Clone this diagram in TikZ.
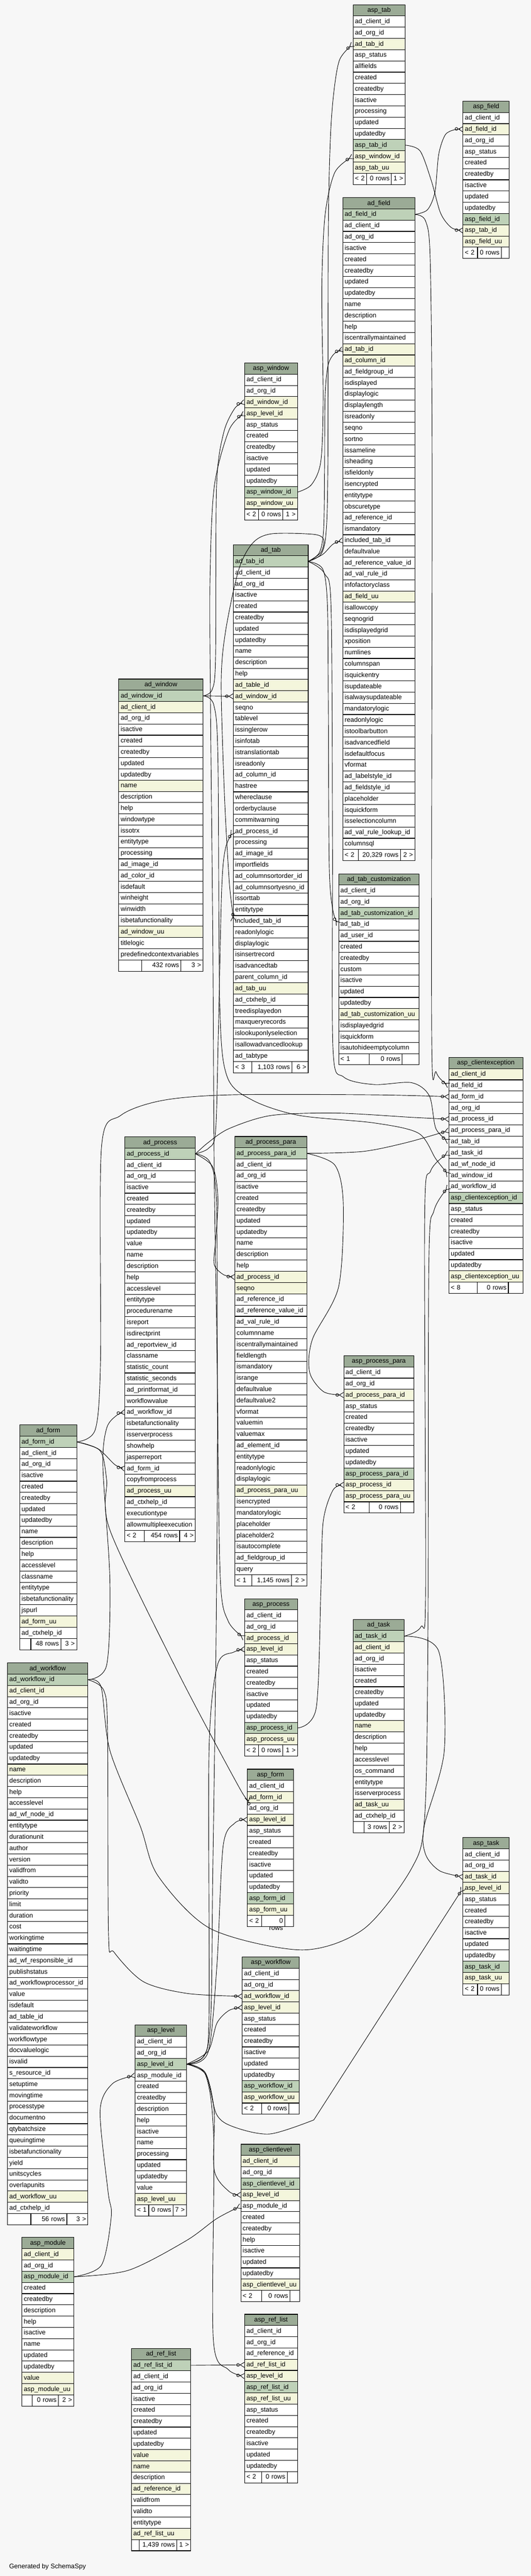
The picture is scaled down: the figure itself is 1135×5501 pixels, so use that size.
\documentclass[tikz,border=0pt]{standalone}
\usepackage{fontspec}
\setmainfont{Liberation Sans}
\usetikzlibrary{arrows.meta}
\definecolor{bgcol}{HTML}{F7F7F7}
\definecolor{hdcol}{HTML}{9BAB96}
\definecolor{pkcol}{HTML}{BED1B8}
\definecolor{ixcol}{HTML}{F4F6DC}
% table: name, top left, width, rows, footer widths, footer texts
\newcommand{\erdtable}[9]{%
\pgfmathsetmacro\tw{#3-8}
\node[tabhead, minimum width=#3pt, anchor=north west] (#1) at #2 {#1};
\xdef\lastrow{#1}
\foreach \kind/\col in {#4}{
\node[tabrow, row\kind, text width=\tw pt, anchor=north west] (#1-\col) at (\lastrow.south west) {\col};
\xdef\lastrow{#1-\col}
}
\pgfmathsetmacro\fa{#5-8}
\pgfmathsetmacro\fb{#6-8}
\pgfmathsetmacro\fc{#3-#5-#6-8}
\node[tabfoot, text width=\fa pt, align=left, anchor=north west] (#1-fl) at (\lastrow.south west) {#7};
\node[tabfoot, text width=\fb pt, align=right, anchor=north west] (#1-fm) at (#1-fl.north east) {#8};
\node[tabfoot, text width=\fc pt, align=right, anchor=north west] (#1-fr) at (#1-fm.north east) {#9};
}
\begin{document}
\catcode`\_=12
\begin{tikzpicture}[x=1pt,y=-1pt,
 tabhead/.style={draw, line width=1.2pt, fill=hdcol, minimum height=24pt, inner sep=0pt, outer sep=0pt, text height=11pt, text depth=3pt, font=\fontsize{14}{16}\selectfont},
 tabrow/.style={draw, line width=1.2pt, minimum height=24pt, inner xsep=4pt, inner ysep=0pt, outer sep=0pt, text height=11pt, text depth=3pt, align=left, font=\fontsize{14}{16}\selectfont},
 tabfoot/.style={draw, line width=1.2pt, fill=white, minimum height=24pt, inner xsep=4pt, inner ysep=0pt, outer sep=0pt, text height=11pt, text depth=3pt, font=\fontsize{14}{16}\selectfont},
 rown/.style={fill=white}, rowp/.style={fill=pkcol}, rowf/.style={fill=ixcol},
 fk/.style={line width=1pt, -{Circle[open,length=7pt,width=7pt] Straight Barb[reversed,length=9pt,width=11pt]}}]
\useasboundingbox (0,0) rectangle (1135,5501);
\fill[bgcol] (0,0) rectangle (1135,5501);
%asp_tab
\erdtable{asp_tab}{(755,10)}{111}{n/ad_client_id, n/ad_org_id, f/ad_tab_id, n/asp_status, n/allfields, n/created, n/createdby, n/isactive, n/processing, n/updated, n/updatedby, p/asp_tab_id, f/asp_window_id, f/asp_tab_uu}{29}{53}{< 2}{0 rows}{1 >}
%asp_field
\erdtable{asp_field}{(990,216)}{99}{n/ad_client_id, f/ad_field_id, n/ad_org_id, n/asp_status, n/created, n/createdby, n/isactive, n/updated, n/updatedby, p/asp_field_id, f/asp_tab_id, f/asp_field_uu}{31}{51}{< 2}{0 rows}{}
%ad_field
\erdtable{ad_field}{(733,422)}{154}{p/ad_field_id, n/ad_client_id, n/ad_org_id, n/isactive, n/created, n/createdby, n/updated, n/updatedby, n/name, n/description, n/help, n/iscentrallymaintained, f/ad_tab_id, f/ad_column_id, n/ad_fieldgroup_id, n/isdisplayed, n/displaylogic, n/displaylength, n/isreadonly, n/seqno, n/sortno, n/issameline, n/isheading, n/isfieldonly, n/isencrypted, n/entitytype, n/obscuretype, n/ad_reference_id, n/ismandatory, n/included_tab_id, n/defaultvalue, n/ad_reference_value_id, n/ad_val_rule_id, n/infofactoryclass, f/ad_field_uu, n/isallowcopy, n/seqnogrid, n/isdisplayedgrid, n/xposition, n/numlines, n/columnspan, n/isquickentry, n/isupdateable, n/isalwaysupdateable, n/mandatorylogic, n/readonlylogic, n/istoolbarbutton, n/isadvancedfield, n/isdefaultfocus, n/vformat, n/ad_labelstyle_id, n/ad_fieldstyle_id, n/placeholder, n/isquickform, n/isselectioncolumn, n/ad_val_rule_lookup_id, n/columnsql}{33}{90}{< 2}{20,329 rows}{2 >}
%asp_window
\erdtable{asp_window}{(523,775)}{113}{n/ad_client_id, n/ad_org_id, f/ad_window_id, f/asp_level_id, n/asp_status, n/created, n/createdby, n/isactive, n/updated, n/updatedby, p/asp_window_id, f/asp_window_uu}{30}{52}{< 2}{0 rows}{1 >}
%ad_tab
\erdtable{ad_tab}{(499,1163)}{160}{p/ad_tab_id, n/ad_client_id, n/ad_org_id, n/isactive, n/created, n/createdby, n/updated, n/updatedby, n/name, n/description, n/help, f/ad_table_id, f/ad_window_id, n/seqno, n/tablevel, n/issinglerow, n/isinfotab, n/istranslationtab, n/isreadonly, n/ad_column_id, n/hastree, n/whereclause, n/orderbyclause, n/commitwarning, n/ad_process_id, n/processing, n/ad_image_id, n/importfields, n/ad_columnsortorder_id, n/ad_columnsortyesno_id, n/issorttab, n/entitytype, n/included_tab_id, n/readonlylogic, n/displaylogic, n/isinsertrecord, n/isadvancedtab, n/parent_column_id, f/ad_tab_uu, n/ad_ctxhelp_id, n/treedisplayedon, n/maxqueryrecords, n/islookuponlyselection, n/isallowadvancedlookup, n/ad_tabtype}{40}{85}{< 3}{1,103 rows}{6 >}
%ad_window
\erdtable{ad_window}{(254,1450)}{180}{p/ad_window_id, f/ad_client_id, n/ad_org_id, n/isactive, n/created, n/createdby, n/updated, n/updatedby, f/name, n/description, n/help, n/windowtype, n/issotrx, n/entitytype, n/processing, n/ad_image_id, n/ad_color_id, n/isdefault, n/winheight, n/winwidth, n/isbetafunctionality, f/ad_window_uu, n/titlelogic, n/predefinedcontextvariables}{49}{84}{}{432 rows}{3 >}
%ad_tab_customization
\erdtable{ad_tab_customization}{(724,1866)}{172}{n/ad_client_id, n/ad_org_id, p/ad_tab_customization_id, n/ad_tab_id, n/ad_user_id, n/created, n/createdby, n/custom, n/isactive, n/updated, n/updatedby, f/ad_tab_customization_uu, n/isdisplayedgrid, n/isquickform, n/isautohideemptycolumn}{65}{71}{< 1}{0 rows}{}
%asp_clientexception
\erdtable{asp_clientexception}{(960,2258)}{158}{f/ad_client_id, n/ad_field_id, n/ad_form_id, n/ad_org_id, n/ad_process_id, n/ad_process_para_id, n/ad_tab_id, n/ad_task_id, n/ad_wf_node_id, n/ad_window_id, n/ad_workflow_id, p/asp_clientexception_id, n/asp_status, n/created, n/createdby, n/isactive, n/updated, n/updatedby, f/asp_clientexception_uu}{60}{67}{< 8}{0 rows}{}
%ad_process
\erdtable{ad_process}{(267,2428)}{151}{p/ad_process_id, n/ad_client_id, n/ad_org_id, n/isactive, n/created, n/createdby, n/updated, n/updatedby, n/value, n/name, n/description, n/help, n/accesslevel, n/entitytype, n/procedurename, n/isreport, n/isdirectprint, n/ad_reportview_id, n/classname, n/statistic_count, n/statistic_seconds, n/ad_printformat_id, n/workflowvalue, n/ad_workflow_id, n/isbetafunctionality, n/isserverprocess, n/showhelp, n/jasperreport, n/ad_form_id, n/copyfromprocess, f/ad_process_uu, n/ad_ctxhelp_id, n/executiontype, n/allowmultipleexecution}{42}{75}{< 2}{454 rows}{4 >}
%ad_process_para
\erdtable{ad_process_para}{(502,2427)}{154}{p/ad_process_para_id, n/ad_client_id, n/ad_org_id, n/isactive, n/created, n/createdby, n/updated, n/updatedby, n/name, n/description, n/help, f/ad_process_id, f/seqno, n/ad_reference_id, n/ad_reference_value_id, n/ad_val_rule_id, n/columnname, n/iscentrallymaintained, n/fieldlength, n/ismandatory, n/isrange, n/defaultvalue, n/defaultvalue2, n/vformat, n/valuemin, n/valuemax, n/ad_element_id, n/entitytype, n/readonlylogic, n/displaylogic, f/ad_process_para_uu, n/isencrypted, n/mandatorylogic, n/placeholder, n/placeholder2, n/isautocomplete, n/ad_fieldgroup_id, n/query}{37}{84}{< 1}{1,145 rows}{2 >}
%asp_process_para
\erdtable{asp_process_para}{(735,2895)}{150}{n/ad_client_id, n/ad_org_id, f/ad_process_para_id, n/asp_status, n/created, n/createdby, n/isactive, n/updated, n/updatedby, p/asp_process_para_id, f/asp_process_id, f/asp_process_para_uu}{54}{67}{< 2}{0 rows}{}
%ad_form
\erdtable{ad_form}{(42,3043)}{122}{p/ad_form_id, n/ad_client_id, n/ad_org_id, n/isactive, n/created, n/createdby, n/updated, n/updatedby, n/name, n/description, n/help, n/accesslevel, n/classname, n/entitytype, n/isbetafunctionality, n/jspurl, f/ad_form_uu, n/ad_ctxhelp_id}{24}{64}{}{48 rows}{3 >}
%ad_workflow
\erdtable{ad_workflow}{(16,3551)}{172}{p/ad_workflow_id, f/ad_client_id, n/ad_org_id, n/isactive, n/created, n/createdby, n/updated, n/updatedby, f/name, n/description, n/help, n/accesslevel, n/ad_wf_node_id, n/entitytype, n/durationunit, n/author, n/version, n/validfrom, n/validto, n/priority, n/limit, n/duration, n/cost, n/workingtime, n/waitingtime, n/ad_wf_responsible_id, n/publishstatus, n/ad_workflowprocessor_id, n/value, n/isdefault, n/ad_table_id, n/validateworkflow, n/workflowtype, n/docvaluelogic, n/isvalid, n/s_resource_id, n/setuptime, n/movingtime, n/processtype, n/documentno, n/qtybatchsize, n/queuingtime, n/isbetafunctionality, n/yield, n/unitscycles, n/overlapunits, f/ad_workflow_uu, n/ad_ctxhelp_id}{50}{77}{}{56 rows}{3 >}
%asp_process
\erdtable{asp_process}{(523,3414)}{113}{n/ad_client_id, n/ad_org_id, f/ad_process_id, f/asp_level_id, n/asp_status, n/created, n/createdby, n/isactive, n/updated, n/updatedby, p/asp_process_id, f/asp_process_uu}{30}{52}{< 2}{0 rows}{1 >}
%ad_task
\erdtable{ad_task}{(755,3458)}{109}{p/ad_task_id, f/ad_client_id, n/ad_org_id, n/isactive, n/created, n/createdby, n/updated, n/updatedby, f/name, n/description, n/help, n/accesslevel, n/os_command, n/entitytype, n/isserverprocess, f/ad_task_uu, n/ad_ctxhelp_id}{23}{54}{}{3 rows}{2 >}
%asp_form
\erdtable{asp_form}{(529,3778)}{99}{n/ad_client_id, f/ad_form_id, n/ad_org_id, f/asp_level_id, n/asp_status, n/created, n/createdby, n/isactive, n/updated, n/updatedby, p/asp_form_id, f/asp_form_uu}{30}{50}{< 2}{0 rows}{}
%asp_task
\erdtable{asp_task}{(990,3924)}{99}{n/ad_client_id, n/ad_org_id, f/ad_task_id, f/asp_level_id, n/asp_status, n/created, n/createdby, n/isactive, n/updated, n/updatedby, p/asp_task_id, f/asp_task_uu}{31}{51}{< 2}{0 rows}{}
%asp_workflow
\erdtable{asp_workflow}{(518,4179)}{122}{n/ad_client_id, n/ad_org_id, f/ad_workflow_id, f/asp_level_id, n/asp_status, n/created, n/createdby, n/isactive, n/updated, n/updatedby, p/asp_workflow_id, f/asp_workflow_uu}{41}{59}{< 2}{0 rows}{}
%asp_level
\erdtable{asp_level}{(289,4324)}{110}{n/ad_client_id, n/ad_org_id, p/asp_level_id, n/asp_module_id, n/created, n/createdby, n/description, n/help, n/isactive, n/name, n/processing, n/updated, n/updatedby, n/value, f/asp_level_uu}{29}{52}{< 1}{0 rows}{7 >}
%asp_clientlevel
\erdtable{asp_clientlevel}{(515,4579)}{126}{f/ad_client_id, n/ad_org_id, p/asp_clientlevel_id, f/asp_level_id, n/asp_module_id, n/created, n/createdby, n/help, n/isactive, n/updated, n/updatedby, f/asp_clientlevel_uu}{44}{61}{< 2}{0 rows}{}
%asp_module
\erdtable{asp_module}{(47,4778)}{111}{f/ad_client_id, n/ad_org_id, p/asp_module_id, n/created, n/createdby, n/description, n/help, n/isactive, n/name, n/updated, n/updatedby, f/value, f/asp_module_uu}{22}{56}{}{0 rows}{2 >}
%ad_ref_list
\erdtable{ad_ref_list}{(281,5015)}{127}{p/ad_ref_list_id, n/ad_client_id, n/ad_org_id, n/isactive, n/created, n/createdby, n/updated, n/updatedby, f/value, f/name, n/description, f/ad_reference_id, n/validfrom, n/validto, n/entitytype, f/ad_ref_list_uu}{17}{80}{}{1,439 rows}{1 >}
%asp_ref_list
\erdtable{asp_ref_list}{(523,4942)}{113}{n/ad_client_id, n/ad_org_id, n/ad_reference_id, f/ad_ref_list_id, f/asp_level_id, p/asp_ref_list_id, f/asp_ref_list_uu, n/asp_status, n/created, n/createdby, n/isactive, n/updated, n/updatedby}{36}{55}{< 2}{0 rows}{}
\node[anchor=west, font=\fontsize{14}{16}\selectfont] (gen) at (16,5481) {Generated by SchemaSpy};
%links from ad_tab
\draw[fk] plot[smooth] coordinates {(ad_tab-ad_tab_id.east) (686,1184) (697,1140) (701,1000) (702,500) (706,306) (713,204) (726,128) (asp_tab-ad_tab_id.west)};
\draw[fk] plot[smooth] coordinates {(ad_tab-ad_tab_id.east) (683,1180) (692,1130) (694,1000) (695,850) (701,782) (714,756) (ad_field-ad_tab_id.west)};
\draw[fk] plot[smooth] coordinates {(ad_tab-ad_tab_id.east) (690,1184) (712,1162) (ad_field-included_tab_id.west)};
\draw[fk] plot[smooth] coordinates {(ad_tab-ad_tab_id.east) (686,1180) (692,1152) (670,1141) (580,1140) (540,1160) (510,1218) (482,1350) (473,1460) (480,1700) (490,1880) (497,1945) (ad_tab-included_tab_id.west)};
\draw[fk] plot[smooth] coordinates {(ad_tab-ad_tab_id.east) (690,1215) (700,1290) (702,1500) (704,1850) (712,1945) (ad_tab_customization-ad_tab_id.west)};
\draw[fk] plot[smooth] coordinates {(ad_tab-ad_tab_id.east) (694,1225) (708,1300) (711,1800) (712,2240) (735,2300) (800,2316) (880,2312) (918,2340) (932,2410) (asp_clientexception-ad_tab_id.west)};
%asp_tab, ad_field
\draw[fk] plot[smooth] coordinates {(asp_tab-asp_tab_id.east) (898,322) (922,385) (942,455) (965,486) (asp_field-asp_tab_id.west)};
\draw[fk] plot[smooth] coordinates {(ad_field-ad_field_id.east) (914,448) (930,410) (938,330) (952,288) (972,277) (asp_field-ad_field_id.west)};
\draw[fk] plot[smooth] coordinates {(ad_field-ad_field_id.east) (910,472) (920,560) (924,1000) (923,2200) (933,2290) (asp_clientexception-ad_field_id.west)};
%asp_window, ad_window
\draw[fk] plot[smooth] coordinates {(asp_window-asp_window_id.east) (666,1035) (686,985) (691,850) (688,620) (695,460) (716,368) (asp_tab-asp_window_id.west)};
\draw[fk] plot[smooth] coordinates {(ad_window-ad_window_id.east) (454,1472) (461,1400) (463,1040) (478,925) (502,872) (asp_window-ad_window_id.west)};
\draw[fk] (ad_window-ad_window_id.east) -- (ad_tab-ad_window_id.west);
\draw[fk] plot[smooth] coordinates {(ad_window-ad_window_id.east) (457,1505) (466,1620) (470,2150) (486,2300) (541,2350) (640,2382) (800,2398) (895,2420) (932,2475) (asp_clientexception-ad_window_id.west)};
%ad_process
\draw[fk] plot[smooth] coordinates {(ad_process-ad_process_id.east) (445,2440) (490,2410) (580,2382) (720,2377) (880,2386) (asp_clientexception-ad_process_id.west)};
\draw[fk] plot[smooth] coordinates {(ad_process-ad_process_id.east) (446,2452) (461,2415) (467,2200) (474,1900) (482,1812) (ad_tab-ad_process_id.west)};
\draw[fk] plot[smooth] coordinates {(ad_process-ad_process_id.east) (455,2492) (466,2560) (461,2650) (458,2700) (478,2722) (ad_process_para-ad_process_id.west)};
\draw[fk] plot[smooth] coordinates {(ad_process-ad_process_id.east) (449,2482) (463,2570) (465,2950) (471,3370) (488,3462) (asp_process-ad_process_id.west)};
%ad_process_para, asp_process
\draw[fk] plot[smooth] coordinates {(ad_process_para-ad_process_para_id.east) (775,2459) (869,2440) (asp_clientexception-ad_process_para_id.west)};
\draw[fk] plot[smooth] coordinates {(ad_process_para-ad_process_para_id.east) (716,2488) (734,2570) (724,2748) (668,2860) (662,2930) (692,2972) (asp_process_para-ad_process_para_id.west)};
\draw[fk] plot[smooth] coordinates {(asp_process-asp_process_id.east) (676,3648) (686,3400) (691,3250) (712,3182) (asp_process_para-asp_process_id.west)};
%ad_form
\draw[fk] plot[smooth] coordinates {(ad_form-ad_form_id.east) (204,3052) (215,2900) (217,2450) (258,2382) (347,2350) (492,2338) (800,2338) (asp_clientexception-ad_form_id.west)};
\draw[fk] plot[smooth] coordinates {(ad_form-ad_form_id.east) (210,3094) (246,3128) (ad_process-ad_form_id.west)};
\draw[fk] plot[smooth] coordinates {(ad_form-ad_form_id.east) (214,3098) (228,3160) (236,3270) (380,3570) (512,3818) (asp_form-ad_form_id.west)};
%ad_workflow
\draw[fk] plot[smooth] coordinates {(ad_workflow-ad_workflow_id.east) (228,3556) (235,3374) (220,3132) (228,3050) (250,3022) (ad_process-ad_workflow_id.west)};
\draw[fk] plot[smooth] coordinates {(ad_workflow-ad_workflow_id.east) (222,3610) (230,3700) (232,4131) (244,4169) (307,4232) (401,4257) (asp_workflow-ad_workflow_id.west)};
\draw[fk] plot[smooth] coordinates {(ad_workflow-ad_workflow_id.east) (216,3602) (235,3738) (300,3900) (338,4006) (451,4119) (646,4164) (778,4119) (880,3990) (908,3880) (915,3500) (917,2700) (928,2585) (asp_clientexception-ad_workflow_id.west)};
%ad_task
\draw[fk] plot[smooth] coordinates {(ad_task-ad_task_id.east) (900,3474) (910,3400) (908,2600) (921,2500) (asp_clientexception-ad_task_id.west)};
\draw[fk] plot[smooth] coordinates {(ad_task-ad_task_id.east) (938,3526) (950,3738) (907,3900) (910,3960) (940,3995) (asp_task-ad_task_id.west)};
%asp_level
\draw[fk] plot[smooth] coordinates {(asp_level-asp_level_id.east) (438,4388) (451,4300) (455,4000) (462,3500) (465,3000) (458,2500) (455,2000) (450,1500) (449,1240) (458,1040) (490,918) (asp_window-asp_level_id.west)};
\draw[fk] plot[smooth] coordinates {(asp_level-asp_level_id.east) (436,4390) (447,4300) (447,3738) (465,3556) (500,3528) (asp_process-asp_level_id.west)};
\draw[fk] plot[smooth] coordinates {(asp_level-asp_level_id.east) (445,4382) (464,4194) (477,3943) (502,3893) (asp_form-asp_level_id.west)};
\draw[fk] plot[smooth] coordinates {(asp_level-asp_level_id.east) (445,4380) (464,4320) (490,4293) (asp_workflow-asp_level_id.west)};
\draw[fk] plot[smooth] coordinates {(asp_level-asp_level_id.east) (439,4426) (458,4508) (458,4634) (490,4680) (asp_clientlevel-asp_level_id.west)};
\draw[fk] plot[smooth] coordinates {(asp_level-asp_level_id.east) (440,4430) (463,4515) (500,4542) (577,4557) (671,4527)} -- (asp_task-asp_level_id.west);
\draw[fk] plot[smooth] coordinates {(asp_level-asp_level_id.east) (440,4432) (457,4571) (456,4994) (488,5060) (asp_ref_list-asp_level_id.west)};
%asp_module
\draw[fk] plot[smooth] coordinates {(asp_module-asp_module_id.east) (217,4837) (238,4732) (231,4680) (214,4508) (240,4450) (asp_level-asp_module_id.west)};
\draw[fk] plot[smooth] coordinates {(asp_module-asp_module_id.east) (275,4848) (398,4785) (463,4738) (asp_clientlevel-asp_module_id.west)};
%ad_ref_list
\draw[fk] (ad_ref_list-ad_ref_list_id.east) -- (asp_ref_list-ad_ref_list_id.west);
\end{tikzpicture}
\end{document}
